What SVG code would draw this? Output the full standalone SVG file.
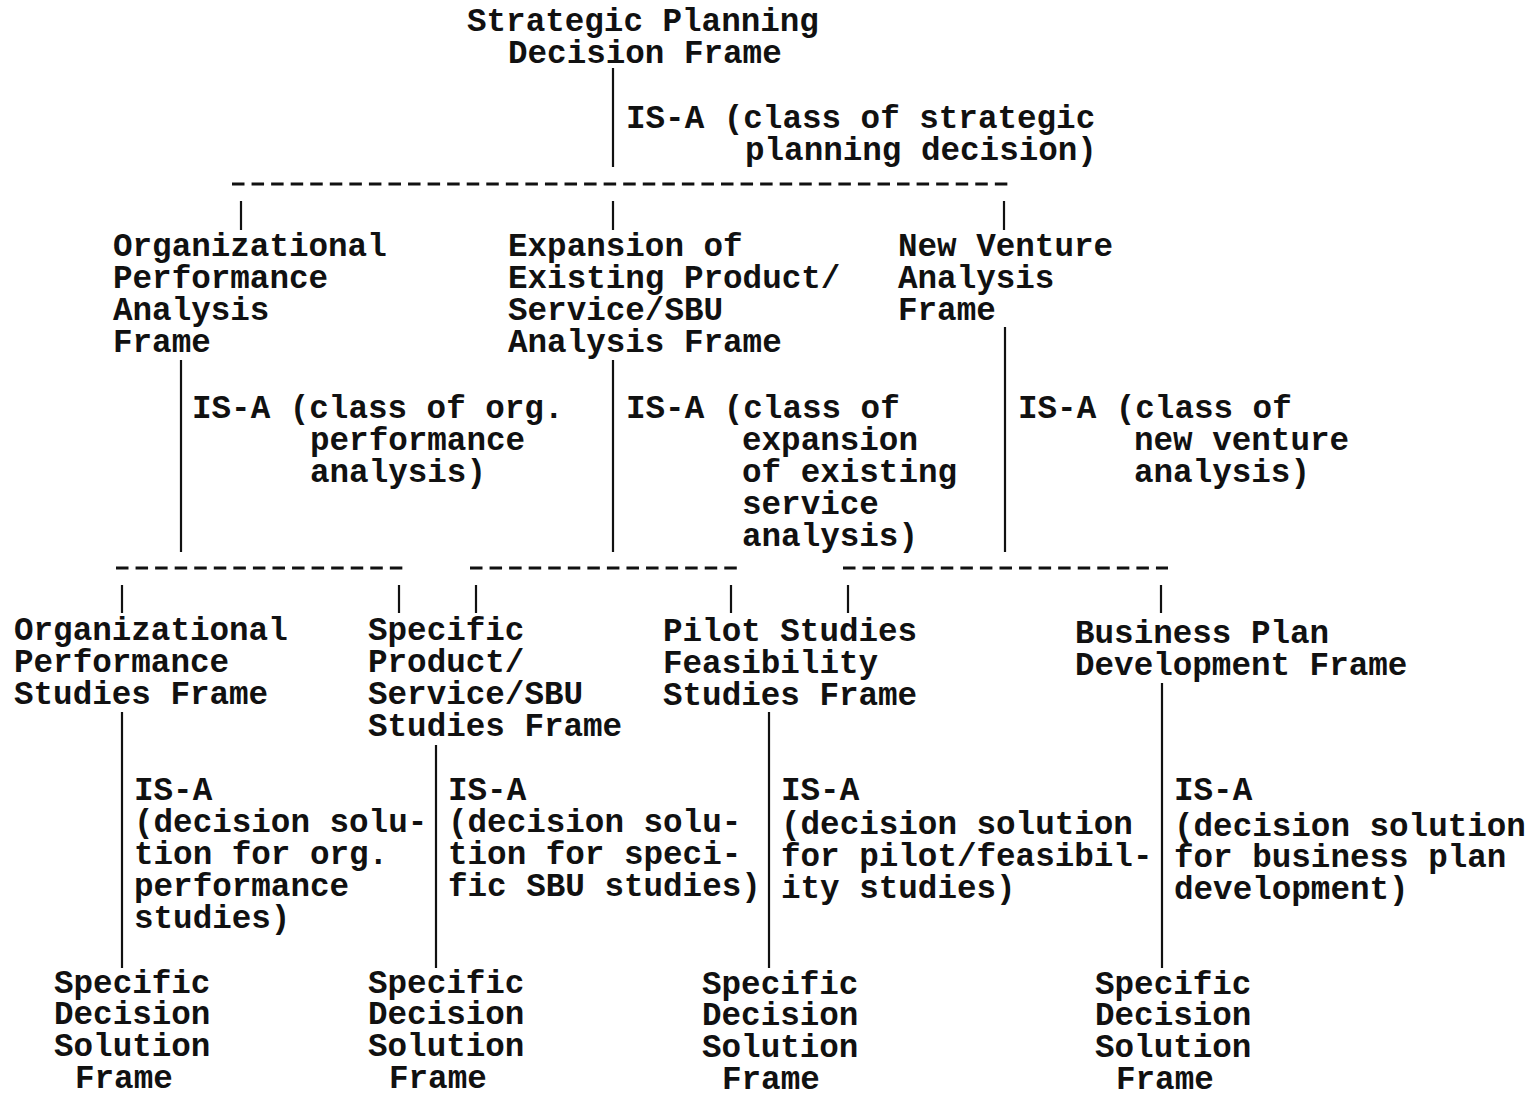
<svg xmlns="http://www.w3.org/2000/svg" width="1535" height="1094" viewBox="0 0 1535 1094">
<style>
text{font-family:"Liberation Mono","DejaVu Sans Mono",monospace;font-size:32.6px;font-weight:bold;fill:#111;white-space:pre}
.v{stroke:#111;stroke-width:2.2;fill:none}
.d{stroke:#111;stroke-width:3;fill:none;stroke-dasharray:12.5 7.06}
</style>
<rect width="1535" height="1094" fill="#fff"/>
<g id="connectors">
<line class="v" x1="613" y1="68" x2="613" y2="167"/>
<line class="d" x1="232" y1="184" x2="1013" y2="184"/>
<line class="v" x1="241" y1="201" x2="241" y2="230"/>
<line class="v" x1="613" y1="201" x2="613" y2="230"/>
<line class="v" x1="1004" y1="201" x2="1004" y2="230"/>
<line class="v" x1="181" y1="360" x2="181" y2="552"/>
<line class="v" x1="613" y1="360" x2="613" y2="552"/>
<line class="v" x1="1005" y1="327" x2="1005" y2="552"/>
<line class="d" x1="116" y1="568" x2="405" y2="568"/>
<line class="d" x1="470" y1="568" x2="738" y2="568"/>
<line class="d" x1="843" y1="568" x2="1168" y2="568"/>
<line class="v" x1="122" y1="585" x2="122" y2="613"/>
<line class="v" x1="399" y1="585" x2="399" y2="613"/>
<line class="v" x1="476" y1="585" x2="476" y2="613"/>
<line class="v" x1="731" y1="585" x2="731" y2="613"/>
<line class="v" x1="848" y1="585" x2="848" y2="613"/>
<line class="v" x1="1161" y1="585" x2="1161" y2="613"/>
<line class="v" x1="122" y1="712" x2="122" y2="968"/>
<line class="v" x1="436" y1="745" x2="436" y2="968"/>
<line class="v" x1="769" y1="712" x2="769" y2="968"/>
<line class="v" x1="1162" y1="683" x2="1162" y2="968"/>
</g>
<g id="labels">
<text x="626" y="128">IS-A (class of strategic</text>
<text x="745" y="160">planning decision)</text>
<text x="192" y="418">IS-A (class of org.</text>
<text x="310" y="450">performance</text>
<text x="310" y="482">analysis)</text>
<text x="626" y="418">IS-A (class of</text>
<text x="742" y="450">expansion</text>
<text x="742" y="482">of existing</text>
<text x="742" y="514">service</text>
<text x="742" y="546">analysis)</text>
<text x="1018" y="418">IS-A (class of</text>
<text x="1134" y="450">new venture</text>
<text x="1134" y="482">analysis)</text>
<text x="134" y="800">IS-A</text>
<text x="134" y="832">(decision solu-</text>
<text x="134" y="864">tion for org.</text>
<text x="134" y="896">performance</text>
<text x="134" y="928">studies)</text>
<text x="448" y="800">IS-A</text>
<text x="448" y="832">(decision solu-</text>
<text x="448" y="864">tion for speci-</text>
<text x="448" y="896">fic SBU studies)</text>
<text x="781" y="800">IS-A</text>
<text x="781" y="834">(decision solution</text>
<text x="781" y="866">for pilot/feasibil-</text>
<text x="781" y="898">ity studies)</text>
<text x="1174" y="800">IS-A</text>
<text x="1174" y="836">(decision solution</text>
<text x="1174" y="867">for business plan</text>
<text x="1174" y="899">development)</text>
</g>
<g id="n-root"><text x="467" y="31">Strategic Planning</text><text x="508" y="63">Decision Frame</text></g>
<g id="n-org"><text x="113" y="256">Organizational</text><text x="113" y="288">Performance</text><text x="113" y="320">Analysis</text><text x="113" y="352">Frame</text></g>
<g id="n-exp"><text x="508" y="256">Expansion of</text><text x="508" y="288">Existing Product/</text><text x="508" y="320">Service/SBU</text><text x="508" y="352">Analysis Frame</text></g>
<g id="n-new"><text x="898" y="256">New Venture</text><text x="898" y="288">Analysis</text><text x="898" y="320">Frame</text></g>
<g id="n-orgstud"><text x="14" y="640">Organizational</text><text x="14" y="672">Performance</text><text x="14" y="704">Studies Frame</text></g>
<g id="n-spec"><text x="368" y="640">Specific</text><text x="368" y="672">Product/</text><text x="368" y="704">Service/SBU</text><text x="368" y="736">Studies Frame</text></g>
<g id="n-pilot"><text x="663" y="641">Pilot Studies</text><text x="663" y="673">Feasibility</text><text x="663" y="705">Studies Frame</text></g>
<g id="n-bus"><text x="1075" y="643">Business Plan</text><text x="1075" y="675">Development Frame</text></g>
<g id="n-sol1"><text x="54" y="993">Specific</text><text x="54" y="1024">Decision</text><text x="54" y="1056">Solution</text><text x="75" y="1088">Frame</text></g>
<g id="n-sol2"><text x="368" y="993">Specific</text><text x="368" y="1024">Decision</text><text x="368" y="1056">Solution</text><text x="389" y="1088">Frame</text></g>
<g id="n-sol3"><text x="702" y="994">Specific</text><text x="702" y="1025">Decision</text><text x="702" y="1057">Solution</text><text x="722" y="1089">Frame</text></g>
<g id="n-sol4"><text x="1095" y="994">Specific</text><text x="1095" y="1025">Decision</text><text x="1095" y="1057">Solution</text><text x="1116" y="1089">Frame</text></g>
</svg>
